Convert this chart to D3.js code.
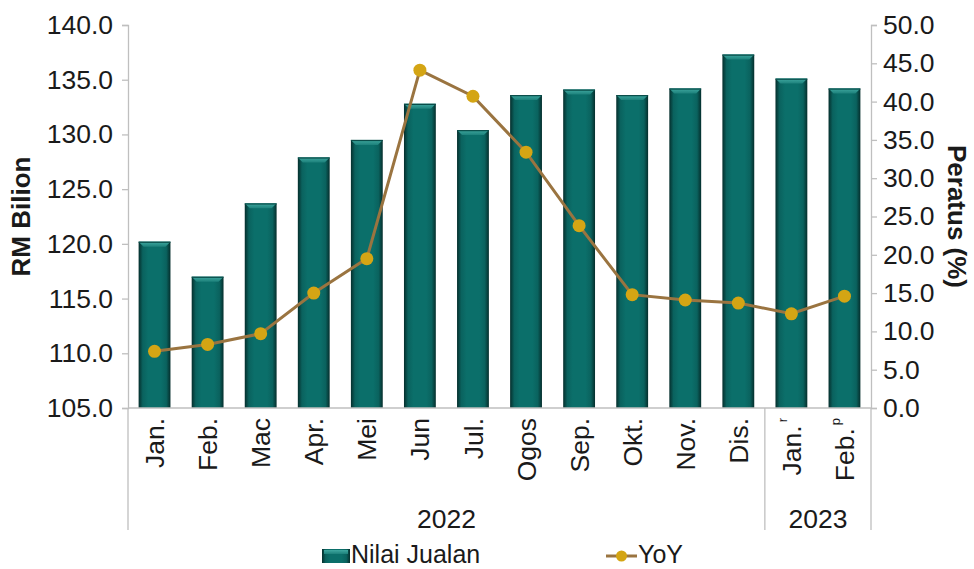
<!DOCTYPE html>
<html>
<head>
<meta charset="utf-8">
<script src="https://cdn.jsdelivr.net/npm/d3@7/dist/d3.min.js"></script>
<style>
  html, body { margin: 0; padding: 0; background: #fff; }
  svg { display: block; font-family: "Liberation Sans", Arial, sans-serif; }
</style>
</head>
<body>
<svg id="chart" width="974" height="569"></svg>
<script>
// ---- data ----
const categories = ["Jan.", "Feb.", "Mac", "Apr.", "Mei", "Jun", "Jul.", "Ogos", "Sep.", "Okt.", "Nov.", "Dis.", "Jan.", "Feb."];
const superscripts = ["", "", "", "", "", "", "", "", "", "", "", "", "r", "p"];
const salesValues = [120.2, 117.0, 123.7, 127.9, 129.5, 132.8, 130.4, 133.6, 134.1, 133.6, 134.2, 137.3, 135.1, 134.2];
const yoyValues = [7.4, 8.3, 9.7, 15.0, 19.5, 44.1, 40.7, 33.4, 23.8, 14.8, 14.1, 13.7, 12.3, 14.6];
const leftTicks = [105, 110, 115, 120, 125, 130, 135, 140];
const rightTicks = [0, 5, 10, 15, 20, 25, 30, 35, 40, 45, 50];
const years = [{ label: "2022", from: 0, to: 11 }, { label: "2023", from: 12, to: 13 }];
const seriesNames = ["Nilai Jualan", "YoY"];

// ---- layout ----
const W = 974, H = 569;
const L = 128, R = 871, T = 25, B = 408;
const FS = 26.5;
const axisColor = "#bfbfbf";
const textColor = "#1a1a1a";

const svg = d3.select("#chart");
const defs = svg.append("defs");

const grad = defs.append("linearGradient").attr("id", "barGrad").attr("x1", "0").attr("x2", "1").attr("y1", "0").attr("y2", "0");
[[0, "#052e2c"], [0.13, "#0a625e"], [0.3, "#0b6f6a"], [0.7, "#0b6f6a"], [0.87, "#0a625e"], [1, "#052e2c"]]
  .forEach(([o, c]) => grad.append("stop").attr("offset", o).attr("stop-color", c));
const topGrad = defs.append("linearGradient").attr("id", "topGrad").attr("x1", "0").attr("x2", "0").attr("y1", "0").attr("y2", "1");
[[0, "#3fa8a0"], [1, "#1d817b"]].forEach(([o, c]) => topGrad.append("stop").attr("offset", o).attr("stop-color", c));

const idx = categories.map((d, i) => i);
const x = d3.scaleBand().domain(idx).range([L, R]).paddingInner(0.4).paddingOuter(0.2);
const yL = d3.scaleLinear().domain([105, 140]).range([B, T]);
const yR = d3.scaleLinear().domain([0, 50]).range([B, T]);

// ---- bars ----
const bw = x.bandwidth();
const bars = svg.append("g");
idx.forEach(i => {
  const x0 = x(i), y0 = yL(salesValues[i]);
  bars.append("rect").attr("x", x0).attr("y", y0).attr("width", bw).attr("height", B - y0)
    .attr("fill", "url(#barGrad)");
  const bev = 5;
  bars.append("path")
    .attr("d", `M${x0},${y0} L${x0 + bw},${y0} L${x0 + bw - bev},${y0 + bev} L${x0 + bev},${y0 + bev} Z`)
    .attr("fill", "url(#topGrad)");
  bars.append("rect").attr("x", x0).attr("y", y0).attr("width", bw).attr("height", 1.2).attr("fill", "#0a4c49");
});

// ---- axes ----
const fmt = d3.format(".1f");
const gL = svg.append("g").attr("transform", `translate(${L},0)`)
  .call(d3.axisLeft(yL).tickValues(leftTicks).tickFormat(fmt).tickSize(6).tickPadding(9));
const gR = svg.append("g").attr("transform", `translate(${R},0)`)
  .call(d3.axisRight(yR).tickValues(rightTicks).tickFormat(fmt).tickSize(6).tickPadding(6));
[gL, gR].forEach(g => {
  g.select(".domain").attr("stroke", axisColor).attr("stroke-width", 1.3);
  g.selectAll(".tick line").attr("stroke", axisColor).attr("stroke-width", 1.3);
  g.selectAll(".tick text").attr("font-size", FS).attr("fill", textColor)
    .attr("font-family", "Liberation Sans, Arial, sans-serif");
});

// bottom axis line
svg.append("line").attr("x1", L).attr("x2", R).attr("y1", B).attr("y2", B)
  .attr("stroke", axisColor).attr("stroke-width", 1.3);

// separators
const sepX = [L, (x(11) + bw + x(12)) / 2, R];
sepX.forEach(sx => svg.append("line").attr("x1", sx).attr("x2", sx).attr("y1", B).attr("y2", 530)
  .attr("stroke", axisColor).attr("stroke-width", 1.3));

// category labels
idx.forEach(i => {
  const cx = x(i) + bw / 2;
  const t = svg.append("text")
    .attr("transform", `translate(${cx},${B + 10}) rotate(-90)`)
    .attr("text-anchor", "end").attr("dy", "0.36em")
    .attr("font-size", FS).attr("fill", textColor)
    .text(categories[i]);
  if (superscripts[i]) {
    t.append("tspan").attr("font-size", 13).attr("dy", "-14").attr("dx", "3").text(superscripts[i]);
  }
});

// year labels
years.forEach(yg => {
  const x0 = yg.from === 0 ? L : sepX[1];
  const x1 = yg.to === 13 ? R : sepX[1];
  svg.append("text").attr("x", (x0 + x1) / 2).attr("y", 528)
    .attr("text-anchor", "middle").attr("font-size", FS).attr("fill", textColor).text(yg.label);
});

// axis titles
svg.append("text").attr("transform", `translate(30,${(T + B) / 2}) rotate(-90)`)
  .attr("text-anchor", "middle").attr("font-size", 26).attr("font-weight", "bold").attr("fill", textColor)
  .text("RM Bilion");
svg.append("text").attr("transform", `translate(948,${(T + B) / 2}) rotate(90)`)
  .attr("text-anchor", "middle").attr("font-size", 26).attr("font-weight", "bold").attr("fill", textColor)
  .text("Peratus (%)");

// ---- line ----
const line = d3.line().x((d, i) => x(i) + bw / 2).y(d => yR(d));
svg.append("path").datum(yoyValues).attr("d", line)
  .attr("fill", "none").attr("stroke", "#9a7440").attr("stroke-width", 3);
svg.append("g").selectAll("circle").data(yoyValues).join("circle")
  .attr("cx", (d, i) => x(i) + bw / 2).attr("cy", d => yR(d)).attr("r", 6.5)
  .attr("fill", "#d4a514");

// ---- legend ----
const lg = svg.append("g");
lg.append("rect").attr("x", 322).attr("y", 549).attr("width", 28).attr("height", 14).attr("fill", "url(#barGrad)");
lg.append("rect").attr("x", 324).attr("y", 550).attr("width", 24).attr("height", 4).attr("fill", "url(#topGrad)");
lg.append("text").attr("x", 351).attr("y", 563).attr("font-size", 25).attr("fill", textColor).text(seriesNames[0]);
lg.append("line").attr("x1", 606).attr("x2", 637).attr("y1", 556).attr("y2", 556)
  .attr("stroke", "#9a7440").attr("stroke-width", 3);
lg.append("circle").attr("cx", 621.5).attr("cy", 556).attr("r", 5.5).attr("fill", "#d4a514");
lg.append("text").attr("x", 638).attr("y", 563).attr("font-size", 25).attr("fill", textColor).text(seriesNames[1]);
</script>
</body>
</html>
